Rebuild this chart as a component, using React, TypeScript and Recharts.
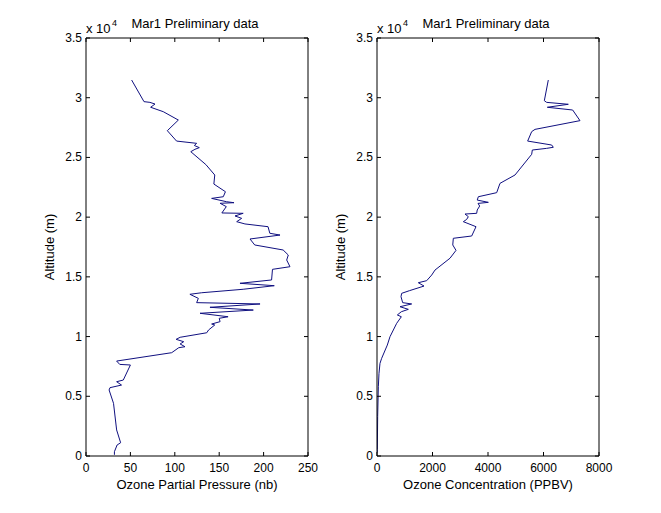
import { LineChart, Line, XAxis, YAxis, Label } from "recharts";

// altitude ticks (m) and x ticks for each panel
const altTicks = [0, 5000, 10000, 15000, 20000, 25000, 30000, 35000];
const pressureTicks = [0, 50, 100, 150, 200, 250];
const concTicks = [0, 2000, 4000, 6000, 8000];

const title = "Mar1 Preliminary data";

// left panel: ozone partial pressure (nb) vs altitude (m)
const pressureAlt = [
  100, 360, 920, 1110, 2180, 4410, 5530, 5720, 5940, 6220, 6360, 7620, 7670, 7950,
  8650, 9070, 9150, 9380, 9570, 9770, 9940, 10320, 10550, 10970, 11050, 11250, 11530,
  11660, 11950, 12220, 12450, 12730, 12840, 13200, 13540, 13670, 13960, 14260, 14460,
  14740, 15630, 15850, 16410, 16830, 17250, 17670, 18170, 18500, 18650, 19200, 19430,
  19620, 19900, 20100, 20320, 20350, 20880, 21160, 21210, 21290, 21570, 21710, 22130,
  22770, 23530, 24400, 25480, 25680, 25820, 26000, 26180, 26370, 27240, 28130, 28830,
  29200, 29470, 29610, 29670, 31480,
];
const pressure = [
  32, 32, 35, 39, 34.5, 31, 26, 27, 40, 34.5, 42, 50, 38, 34.5,
  96.5, 104.5, 111.5, 106, 110, 101.5, 106, 136, 138, 145, 141.5, 151, 150,
  160, 128.4, 188.4, 139.6, 196, 124.6, 126.5, 117, 130.3, 177, 212, 173.4,
  209, 210, 229.7, 226, 227.8, 222, 190, 184.7, 218.5, 207, 205, 179,
  169.7, 175.3, 167.8, 177, 153, 158, 151, 166.7, 158.4, 141.5, 154.6, 157,
  144, 145, 135, 118, 122.7, 127.6, 122, 124.6, 102, 91.6, 104, 87,
  72.8, 77.7, 72, 65.3, 51.4,
];

// right panel: ozone concentration (PPBV) vs altitude (m)
const concAlt = [
  300, 560, 3290, 5800, 6920, 7760, 8180, 9290, 9990, 11110, 11660, 11810, 12080,
  12280, 12500, 12730, 12840, 13340, 13620, 13840, 14230, 14510, 14680, 15150, 15570,
  16560, 17220, 17670, 18230, 18420, 19200, 19620, 19810, 20040, 20260, 20320, 20600,
  20930, 21150, 21240, 21430, 21710, 22050, 22830, 23530, 25260, 25620, 25760, 25850,
  26040, 26370, 27160, 27350, 28080, 28970, 29200, 29450, 29610, 29750, 31480,
];
const conc = [
  10, 12, 24, 48, 72, 108, 168, 372, 468, 709, 877, 733, 877,
  1129, 829, 1249, 925, 865, 889, 1165, 1694, 1489, 1790, 1970, 2090,
  2631, 2847, 2730, 2750, 3412, 3568, 3111, 3231, 3291, 3171, 3592, 3612,
  3700, 3640, 4012, 3612, 3652, 4313, 4432, 4973, 5574, 5597, 6114, 6354,
  6294, 5429, 5574, 5694, 7315, 7051, 6138, 6894, 6114, 6030, 6173,
];

const FONT = "'Liberation Sans', Arial, Helvetica, sans-serif";
const TL = 4; // inward tick length
const LINE = "#101080";

function BottomTick({ x, y, payload }: any) {
  return (
    <g>
      <line x1={x} y1={y} x2={x} y2={y - TL} stroke="#000" />
      <text x={x} y={y + 16} textAnchor="middle" fontSize={12} fontFamily={FONT} fill="#000">
        {payload.value}
      </text>
    </g>
  );
}

function TopTick({ x, y }: any) {
  return <line x1={x} y1={y} x2={x} y2={y + TL} stroke="#000" />;
}

function LeftTick({ x, y, payload }: any) {
  return (
    <g>
      <line x1={x} y1={y} x2={x + TL} y2={y} stroke="#000" />
      <text x={x - 4} y={y + 4} textAnchor="end" fontSize={12} fontFamily={FONT} fill="#000">
        {payload.value / 10000}
      </text>
    </g>
  );
}

function RightTick({ x, y }: any) {
  return <line x1={x} y1={y} x2={x - TL} y2={y} stroke="#000" />;
}

function TitleLabel({ viewBox }: any) {
  const { x, y, width, height } = viewBox;
  const top = y + height;
  return (
    <g fontFamily={FONT} fill="#000">
      <text x={x + width / 2 - 2} y={top - 10} textAnchor="middle" fontSize={13}>{title}</text>
      <text x={x} y={top - 5} fontSize={13}>x 10</text>
      <text x={x + 26} y={top - 12} fontSize={9}>4</text>
    </g>
  );
}

function AltLabel({ viewBox }: any) {
  const cx = viewBox.x + 8;
  const cy = viewBox.y + viewBox.height / 2;
  return (
    <text x={cx} y={cy} transform={`rotate(-90 ${cx} ${cy})`} textAnchor="middle"
      fontSize={13} fontFamily={FONT} fill="#000">Altitude (m)</text>
  );
}

function makeXLabel(text: string) {
  return ({ viewBox }: any) => (
    <text x={viewBox.x + viewBox.width / 2} y={viewBox.y + 33} textAnchor="middle"
      fontSize={13} fontFamily={FONT} fill="#000">{text}</text>
  );
}

function Panel({ data, xMax, xTicks, xLabel, left }: any) {
  return (
    <div style={{ position: "absolute", left, top: 0 }}>
      <LineChart width={330} height={513} data={data}
        margin={{ top: 37, right: 21, bottom: 12, left: 46 }}>
        <XAxis xAxisId="b" dataKey="v" type="number" domain={[0, xMax]} ticks={xTicks}
          interval={0} height={45} tickSize={0} tickMargin={0} tick={<BottomTick />}
          axisLine={{ stroke: "#000" }} allowDataOverflow>
          <Label content={makeXLabel(xLabel)} />
        </XAxis>
        <XAxis xAxisId="t" orientation="top" dataKey="v" type="number" domain={[0, xMax]}
          ticks={xTicks} interval={0} height={1} tickSize={0} tickMargin={0} tick={<TopTick />}
          axisLine={{ stroke: "#000" }} allowDataOverflow>
          <Label content={<TitleLabel />} />
        </XAxis>
        <YAxis yAxisId="l" dataKey="alt" type="number" domain={[0, 35000]} ticks={altTicks}
          interval={0} width={40} tickSize={0} tickMargin={0} tick={<LeftTick />}
          axisLine={{ stroke: "#000" }} allowDataOverflow>
          <Label content={<AltLabel />} />
        </YAxis>
        <YAxis yAxisId="r" orientation="right" dataKey="alt" type="number" domain={[0, 35000]}
          ticks={altTicks} interval={0} width={1} tickSize={0} tickMargin={0} tick={<RightTick />}
          axisLine={{ stroke: "#000" }} allowDataOverflow />
        <Line xAxisId="t" yAxisId="r" dataKey="alt" type="linear" stroke="none"
          dot={false} activeDot={false} isAnimationActive={false} />
        <Line xAxisId="b" yAxisId="l" dataKey="alt" type="linear" stroke={LINE} strokeWidth={1}
          dot={false} activeDot={false} isAnimationActive={false} />
      </LineChart>
    </div>
  );
}

export default function App() {
  const leftData = pressureAlt.map((alt, i) => ({ alt, v: pressure[i] }));
  const rightData = concAlt.map((alt, i) => ({ alt, v: conc[i] }));
  return (
    <div style={{ position: "absolute", left: 0, top: 0, width: 661, height: 513, background: "#fff" }}>
      <Panel data={leftData} xMax={250} xTicks={pressureTicks} xLabel="Ozone Partial Pressure (nb)" left={0} />
      <Panel data={rightData} xMax={8000} xTicks={concTicks} xLabel="Ozone Concentration (PPBV)" left={291} />
    </div>
  );
}
